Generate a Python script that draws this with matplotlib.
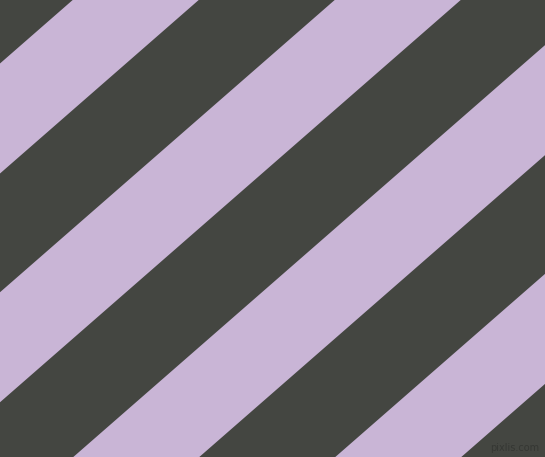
import matplotlib
matplotlib.use("Agg")
import matplotlib.pyplot as plt
from matplotlib.patches import Polygon

# stripe pattern parameters
width_px, height_px = 545, 457
dark_color = "#444641"
light_color = "#c9b5d6"
slope = 1.1453          # horizontal shift per pixel down
first_edge = 72.7       # x where first light stripe starts on top edge
period = 262.0          # horizontal period of stripes
light_width = 126.0     # horizontal width of a light stripe
stripe_index = [-3, -2, -1, 0, 1, 2, 3]
watermark = "pixlis.com"

fig = plt.figure(figsize=(width_px / 100, height_px / 100), dpi=100)
ax = fig.add_axes([0, 0, 1, 1])
ax.set_xlim(0, width_px)
ax.set_ylim(height_px, 0)
ax.set_facecolor(dark_color)
ax.axis("off")
fig.patch.set_facecolor(dark_color)

y_top, y_bot = -50, height_px + 50
for n in stripe_index:
    a = first_edge + n * period
    b = a + light_width
    pts = [(a - slope * y_top, y_top), (b - slope * y_top, y_top),
           (b - slope * y_bot, y_bot), (a - slope * y_bot, y_bot)]
    ax.add_patch(Polygon(pts, closed=True, facecolor=light_color,
                         edgecolor="none", antialiased=True))

ax.text(539, 448, watermark, ha="right", va="center", fontsize=7,
        color="#353733", family="DejaVu Sans")

fig.savefig("out.png", dpi=100, facecolor=dark_color)
